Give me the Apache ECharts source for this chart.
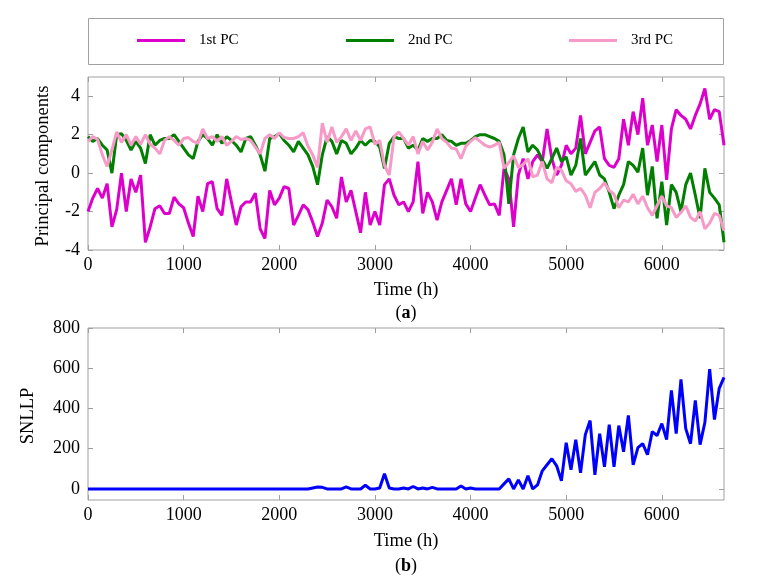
<!DOCTYPE html>
<html><head><meta charset="utf-8">
<script src="https://cdn.jsdelivr.net/npm/echarts@6/dist/echarts.min.js"></script>
<style>html,body{margin:0;padding:0;background:#fff}#c{width:758px;height:583px}</style>
</head><body><div id="c"></div>
<script>
const time = [0,50,100,150,200,250,300,350,400,450,500,550,600,650,700,750,800,850,900,950,
1000,1050,1100,1150,1200,1250,1300,1350,1400,1450,1500,1550,1600,1650,1700,1750,1800,1850,1900,1950,
2000,2050,2100,2150,2200,2250,2300,2350,2400,2450,2500,2550,2600,2650,2700,2750,2800,2850,2900,2950,
3000,3050,3100,3150,3200,3250,3300,3350,3400,3450,3500,3550,3600,3650,3700,3750,3800,3850,3900,3950,
4000,4050,4100,4150,4200,4250,4300,4350,4400,4450,4500,4550,4600,4650,4700,4750,4800,4850,4900,4950,
5000,5050,5100,5150,5200,5250,5300,5350,5400,5450,5500,5550,5600,5650,5700,5750,5800,5850,5900,5950,
6000,6050,6100,6150,6200,6250,6300,6350,6400,6450,6500,6550,6600,6650];

const pc1 = [-2.0,-1.3,-0.8,-1.3,-0.55,-2.8,-1.9,0.0,-2.0,-0.3,-1.0,-0.1,-3.6,-2.8,-1.85,-1.7,-2.1,-2.1,-1.25,-1.6,
-1.8,-2.6,-3.3,-1.2,-2.0,-0.55,-0.45,-1.85,-2.2,-0.3,-1.5,-2.7,-1.75,-1.5,
-1.5,-1.05,-2.9,-3.4,-0.9,-1.65,-1.3,-0.7,-0.8,-2.7,-2.2,-1.65,-1.9,-2.55,-3.3,-2.6,-1.4,-1.75,-2.35,-0.2,
-1.5,-0.9,-2.0,-3.1,-1.0,-2.7,-2.0,-2.7,-0.6,-0.3,-1.15,-1.65,-1.5,
-2.0,-1.5,0.6,-2.1,-1.0,-1.5,-2.45,-1.5,-0.9,-0.3,-1.65,-0.3,-1.6,-2.0,-1.3,-0.6,-1.15,-1.65,-1.6,-2.2,
0.25,-0.3,-2.8,-0.1,0.75,-0.3,0.6,0.95,0.6,2.3,0.75,-0.1,0.4,1.45,
1.0,1.3,3.0,1.0,1.6,2.2,2.4,0.75,0.4,0.3,0.75,2.8,1.45,3.2,2.0,3.9,1.45,2.5,0.6,2.5,
-0.35,2.3,3.3,3.0,2.8,2.3,3.0,3.6,4.4,2.8,3.3,3.2,1.45];

const pc2 = [1.9,1.65,1.8,1.45,1.2,0.0,2.0,2.05,1.7,1.2,1.65,1.3,0.5,2.0,1.45,1.7,1.8,1.8,2.0,1.65,
1.3,0.95,0.75,1.65,2.0,1.8,1.45,2.0,1.55,1.9,1.7,1.45,1.1,1.8,
1.9,1.45,0.95,0.1,1.8,1.9,2.05,1.7,1.45,1.1,1.65,1.3,0.95,0.35,-0.6,0.95,1.9,1.65,1.0,1.7,
1.55,1.0,1.3,1.7,1.45,1.7,1.65,1.35,0.25,1.55,1.9,1.8,1.8,
1.3,1.45,1.2,1.8,1.65,1.8,1.8,2.0,1.7,1.65,1.45,1.55,1.55,1.7,1.9,2.0,2.0,1.9,1.8,1.65,
0.95,-1.6,0.95,1.8,2.4,1.1,1.45,1.2,0.7,0.25,0.75,1.3,0.6,0.85,
-0.1,0.4,1.8,-0.1,0.25,0.6,-0.1,-0.3,-1.0,-1.85,-1.15,-0.6,0.6,0.4,0.05,1.3,-1.15,0.35,-2.35,-0.45,
-2.7,-0.6,-1.0,-2.0,-0.6,0.0,-1.15,-2.35,0.25,-1.0,-1.3,-1.65,-3.6];

const pc3 = [1.65,1.9,1.75,0.95,0.35,1.2,2.15,1.6,2.0,1.45,1.9,1.5,2.0,1.5,1.3,1.0,1.7,1.9,1.7,1.45,
1.8,1.85,1.65,1.55,2.3,1.8,1.9,1.65,1.9,1.45,1.65,1.9,1.75,1.8,
1.7,1.35,1.0,1.8,2.0,1.8,2.1,1.85,1.8,1.8,1.9,2.1,1.4,0.95,0.3,2.6,1.6,2.4,1.6,1.9,
2.3,1.7,2.2,1.7,2.3,2.4,1.5,1.7,0.4,-0.1,1.9,2.15,1.8,
1.45,1.9,1.0,1.65,1.2,1.6,2.3,1.8,1.6,1.3,1.25,0.75,1.4,1.65,1.85,1.65,1.45,1.35,1.45,1.6,
0.25,0.55,0.9,0.3,0.45,0.75,-0.2,-0.1,0.6,-0.3,-0.5,0.3,0.15,-0.4,
-0.55,-0.95,-0.8,-1.15,-1.8,-1.0,-0.8,-0.5,-0.9,-1.1,-1.8,-1.4,-1.5,-1.1,-1.6,-1.2,-1.8,-2.2,-1.7,-1.2,
-1.7,-1.8,-2.3,-2.05,-1.7,-2.3,-2.5,-2.0,-2.9,-2.6,-2.1,-2.2,-3.0];

const snllp = [0,0,0,0,0,0,0,0,0,0,0,0,0,0,0,0,0,0,0,0,
0,0,0,0,0,0,0,0,0,0,0,0,0,0,0,0,0,0,0,0,
0,0,0,0,0,0,0,5,10,8,0,0,0,0,10,0,0,0,18,0,
0,5,75,5,0,0,5,0,12,0,5,0,8,0,0,0,0,0,15,0,
5,0,0,0,0,0,0,25,50,0,45,0,65,0,20,90,120,150,115,40,
230,95,245,80,270,340,70,275,110,320,110,315,185,365,120,205,225,170,285,265,
325,245,490,275,545,300,225,440,220,330,595,345,500,555];

const xTickValues = [0,1000,2000,3000,4000,5000,6000];
const pcTickValues = [-4,-2,0,2,4];
const snllpTickValues = [0,200,400,600,800];
const seriesNames = ['1st PC','2nd PC','3rd PC'];

const FONT = 'Liberation Serif';
const GRAY = '#a0a0a0';
const chart = echarts.init(document.getElementById('c'));
const pairs = arr => time.map((t,i)=>[t,arr[i]]);
const plain = v => String(v);

function xAxis(grid, pos, labels, ticks){
  return {type:'value', gridIndex:grid, position:pos, min:0, max:6650,
    axisLine:{show:false, onZero:false}, splitLine:{show:false},
    axisTick:{show:true, inside:true, length:5, lineStyle:{color:GRAY}, customValues:ticks},
    axisLabel:{show:labels, customValues:ticks, formatter:plain, margin:6, color:'#000', fontFamily:FONT, fontSize:18}};
}
function yAxis(grid, pos, labels, min, max, ticks){
  return {type:'value', gridIndex:grid, position:pos, min:min, max:max,
    axisLine:{show:false, onZero:false}, splitLine:{show:false},
    axisTick:{show:true, inside:true, length:5, lineStyle:{color:GRAY}, customValues:ticks},
    axisLabel:{show:labels, customValues:ticks, formatter:plain, margin:8, color:'#000', fontFamily:FONT, fontSize:18}};
}
function legend(name, left){
  return {data:[name], left:left, top:33, padding:0, itemWidth:48, itemHeight:3, icon:'rect',
    textStyle:{fontFamily:FONT, fontSize:15, color:'#000', padding:[0,0,0,9]}};
}
const textEl = (txt, x, y, extra) => Object.assign({type:'text', x:x, y:y,
  style:{text:txt, fontFamily:FONT, fontSize:18.5, fill:'#000', align:'center', verticalAlign:'middle'}}, extra||{});
const richStyle = txt => ({style:{text:txt, fontFamily:FONT, fontSize:18, fill:'#000', align:'center', verticalAlign:'middle',
  rich:{b:{fontFamily:FONT, fontSize:18, fontWeight:'bold', fill:'#000'}}}});

chart.setOption({
  animation:false,
  backgroundColor:'#fff',
  legend:[legend(seriesNames[0],137), legend(seriesNames[1],346), legend(seriesNames[2],569)],
  grid:[
    {left:88, top:77, width:636, height:173, show:true, borderColor:GRAY, borderWidth:1},
    {left:88, top:328, width:636, height:172, show:true, borderColor:GRAY, borderWidth:1}
  ],
  xAxis:[xAxis(0,'bottom',true,xTickValues), xAxis(0,'top',false,xTickValues),
         xAxis(1,'bottom',true,xTickValues), xAxis(1,'top',false,xTickValues)],
  yAxis:[yAxis(0,'left',true,-4,5,pcTickValues), yAxis(0,'right',false,-4,5,pcTickValues),
         yAxis(1,'left',true,-55,800,snllpTickValues), yAxis(1,'right',false,-55,800,snllpTickValues)],
  series:[
    {name:seriesNames[0], type:'line', xAxisIndex:0, yAxisIndex:0, data:pairs(pc1), showSymbol:false, color:'#dd00cc', lineStyle:{width:3}},
    {name:seriesNames[1], type:'line', xAxisIndex:0, yAxisIndex:0, data:pairs(pc2), showSymbol:false, color:'#007f00', lineStyle:{width:3}},
    {name:seriesNames[2], type:'line', xAxisIndex:0, yAxisIndex:0, data:pairs(pc3), showSymbol:false, color:'#f79ac8', lineStyle:{width:3}},
    {name:'SNLLP', type:'line', xAxisIndex:2, yAxisIndex:2, data:pairs(snllp), showSymbol:false, color:'#0000ff', lineStyle:{width:3}}
  ],
  graphic:[
    {type:'rect', shape:{x:88.5, y:18.5, width:635, height:46}, style:{fill:'none', stroke:GRAY, lineWidth:1}},
    textEl('Time (h)', 406, 290),
    textEl('', 406, 313, richStyle('({b|a})')),
    textEl('Principal components', 43, 166, {rotation:Math.PI/2}),
    textEl('SNLLP', 28, 416, {rotation:Math.PI/2}),
    textEl('Time (h)', 406, 541),
    textEl('', 406, 566, richStyle('({b|b})'))
  ]
});
</script></body></html>
